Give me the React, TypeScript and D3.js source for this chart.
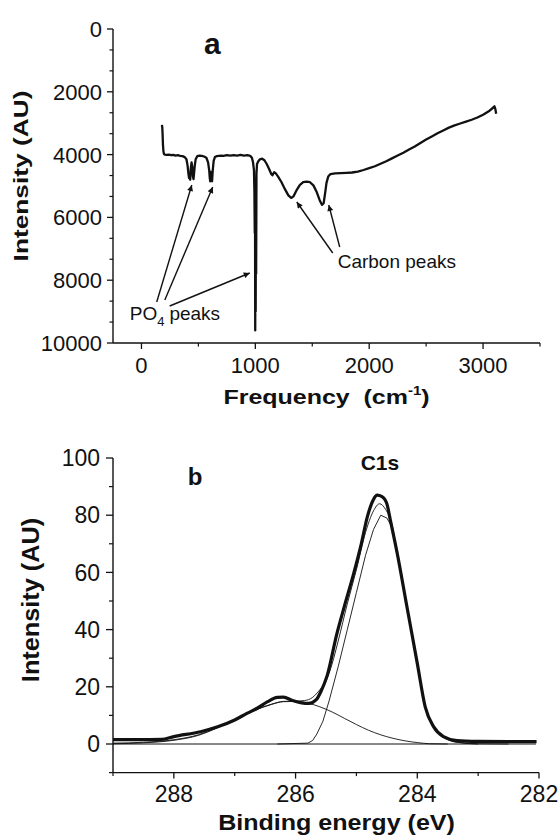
import React from 'react';
import * as d3 from 'd3';

// ---------- Panel a : FTIR spectrum ----------
const FTIR_FREQ = [180, 183, 186, 189, 193, 198, 205, 220, 240, 260, 280, 300, 320, 340, 360, 380, 395, 405, 412, 418, 423, 428, 433, 440, 446, 452, 457, 462, 468, 476, 490, 510, 530, 550, 570, 585, 595, 600, 604, 608, 612, 616, 620, 626, 634, 645, 660, 680, 700, 720, 750, 780, 810, 840, 870, 900, 930, 955, 970, 980, 988, 992, 995, 997, 999, 1001, 1003, 1005, 1007, 1010, 1015, 1025, 1040, 1060, 1080, 1100, 1120, 1140, 1150, 1165, 1180, 1200, 1230, 1260, 1290, 1315, 1335, 1360, 1390, 1420, 1450, 1480, 1510, 1540, 1565, 1585, 1600, 1612, 1625, 1640, 1660, 1700, 1750, 1800, 1850, 1900, 1950, 2000, 2050, 2100, 2150, 2200, 2250, 2300, 2350, 2400, 2450, 2500, 2550, 2600, 2650, 2700, 2750, 2800, 2850, 2900, 2950, 3000, 3050, 3090, 3100, 3108, 3115];
const FTIR_INT = [3050, 3150, 3400, 3700, 3900, 3980, 4000, 4010, 4000, 4020, 4010, 4030, 4020, 4040, 4050, 4080, 4150, 4350, 4600, 4750, 4650, 4800, 4450, 4250, 4400, 4700, 4780, 4600, 4350, 4150, 4050, 4030, 4040, 4060, 4100, 4250, 4500, 4750, 4850, 4550, 4800, 4600, 4850, 4500, 4200, 4080, 4050, 4040, 4030, 4040, 4020, 4030, 4020, 4030, 4010, 4030, 4020, 4040, 4100, 4250, 4500, 5200, 6500, 4800, 9600, 7000, 9000, 6000, 7800, 4600, 4300, 4220, 4150, 4130, 4180, 4300, 4450, 4620, 4660, 4560, 4600, 4700, 4880, 5100, 5300, 5380, 5330, 5150, 4970, 4880, 4860, 4880, 4980, 5200, 5450, 5600, 5550, 5250, 4900, 4700, 4620, 4600, 4590, 4580, 4570, 4540, 4490, 4430, 4370, 4290, 4210, 4120, 4030, 3940, 3840, 3740, 3630, 3520, 3420, 3320, 3230, 3140, 3070, 3010, 2950, 2890, 2820, 2730, 2620, 2500, 2460, 2550, 2700];

const A_X_TICKS = [0, 1000, 2000, 3000];
const A_X_MINOR = [500, 1500, 2500, 3500];
const A_Y_TICKS = [0, 2000, 4000, 6000, 8000, 10000];
const A_Y_MINOR = [667, 1333, 2667, 3333, 4667, 5333, 6667, 7333, 8667, 9333];

// arrows [x1, y1, x2, y2] in data units (tail -> head)
const PO4_ARROWS = [
  [134, 8694, 442, 4968],
  [205, 8631, 626, 5032],
  [248, 8822, 951, 7771],
];
const CARBON_ARROWS = [
  [1680, 7134, 1364, 5510],
  [1741, 6943, 1645, 5605],
];

// ---------- Panel b : XPS C1s ----------
const ENV_E = [289.0, 288.6, 288.2, 288.0, 287.56, 287.28, 287.0, 286.8, 286.63, 286.46, 286.3, 286.2, 286.05, 285.9, 285.78, 285.66, 285.58, 285.48, 285.32, 285.2, 285.04, 284.92, 284.82, 284.72, 284.66, 284.58, 284.5, 284.44, 284.33, 284.17, 284.0, 283.87, 283.73, 283.57, 283.35, 283.0, 282.5, 282.04];
const ENV_I = [1.5, 1.5, 1.6, 2.6, 4.3, 6.0, 8.4, 10.7, 12.5, 14.8, 16.3, 16.4, 15.2, 14.4, 14.2, 15.5, 18.5, 24, 38.7, 48, 60, 70, 79.5, 85.5, 87, 86.5, 84, 78, 66.7, 48, 28.2, 13, 6, 2.6, 1.2, 0.9, 0.8, 0.8];

const FIT_E = [289.0, 288.5, 288.0, 287.6, 287.3, 287.0, 286.7, 286.4, 286.2, 286.0, 285.85, 285.72, 285.6, 285.5, 285.4, 285.3, 285.15, 285.0, 284.85, 284.72, 284.62, 284.52, 284.42, 284.33, 284.17, 284.0, 283.87, 283.73, 283.57, 283.4, 283.0, 282.5];
const FIT_I = [0.3, 0.6, 1.5, 3.2, 5.6, 8.6, 11.6, 13.9, 14.9, 15.0, 15.2, 16.3, 19, 22, 28, 36, 49, 61, 74, 81.5, 84, 82, 77, 67, 48.5, 28.5, 13, 6, 2.5, 0.8, 0.1, 0];

const C1_E = [286.3, 285.8, 285.72, 285.65, 285.55, 285.45, 285.3, 285.15, 285.0, 284.85, 284.72, 284.6, 284.5, 284.42, 284.33, 284.17, 284.0, 283.87, 283.73, 283.57, 283.4, 283.2, 283.0];
const C1_I = [0, 0.3, 1.2, 3.5, 8, 15, 27, 40, 53, 66, 75, 80, 79, 76, 66, 47.5, 28, 12.8, 5.8, 2.4, 0.8, 0.2, 0];

const C2_E = [289.0, 288.5, 288.0, 287.6, 287.3, 287.0, 286.7, 286.4, 286.2, 286.0, 285.8, 285.6, 285.4, 285.2, 285.0, 284.8, 284.6, 284.4, 284.2, 284.0, 283.8, 283.5];
const C2_I = [0.1, 0.4, 1.3, 3, 5.5, 8.5, 11.5, 13.8, 14.8, 14.9, 14.3, 13, 11.2, 9, 6.8, 4.8, 3.2, 2, 1.1, 0.5, 0.1, 0];

const B_X_TICKS = [288, 286, 284, 282];
const B_X_MINOR = [289, 287, 285, 283];
const B_Y_TICKS = [0, 20, 40, 60, 80, 100];
const B_Y_MINOR = [-10, 10, 30, 50, 70, 90];

const FONT = '"Liberation Sans", Arial, Helvetica, sans-serif';
const INK = '#111';

function mkLine(xs: number[], ys: number[], sx: any, sy: any, curve: any) {
  const idx = xs.map((_, i) => i);
  return d3.line<number>().x((i) => sx(xs[i])).y((i) => sy(ys[i])).curve(curve)(idx) || '';
}

export default function App() {
  const ax = d3.scaleLinear().domain([-250, 3500]).range([113, 540]);
  const ay = d3.scaleLinear().domain([0, 10000]).range([29, 343]);
  const bx = d3.scaleLinear().domain([289, 282]).range([113, 539]);
  const by = d3.scaleLinear().domain([-10, 100]).range([772.6, 458]);

  const ftir = mkLine(FTIR_FREQ, FTIR_INT, ax, ay, d3.curveLinear);
  const env = mkLine(ENV_E, ENV_I, bx, by, d3.curveMonotoneX);
  const fit = mkLine(FIT_E, FIT_I, bx, by, d3.curveMonotoneX);
  const c1 = mkLine(C1_E, C1_I, bx, by, d3.curveLinear);
  const c2 = mkLine(C2_E, C2_I, bx, by, d3.curveMonotoneX);

  const aBase = ay(10000);
  const aLeft = ax(-250);
  const bBase = by(-10);
  const bLeft = bx(289);

  return (
    <svg width={559} height={835} style={{ position: 'absolute', left: 0, top: 0, background: '#fff' }} fontFamily={FONT}>
      <defs>
        <marker id="arr" viewBox="0 0 10 10" refX="10" refY="5" markerWidth="9" markerHeight="6" markerUnits="userSpaceOnUse" orient="auto">
          <path d="M0,0 L10,5 L0,10 z" fill={INK} />
        </marker>
      </defs>
      <rect width={559} height={835} fill="#fff" />

      {/* ===== Panel a ===== */}
      <g>
        <line x1={aLeft} x2={ax(3500)} y1={aBase} y2={aBase} stroke={INK} strokeWidth={1.4} />
        <line x1={aLeft} x2={aLeft} y1={ay(0)} y2={aBase} stroke={INK} strokeWidth={1.4} />
        {A_X_TICKS.map((t) => (
          <g key={'ax' + t}>
            <line x1={ax(t)} x2={ax(t)} y1={aBase} y2={aBase + 6} stroke={INK} strokeWidth={1.3} />
            <text x={ax(t)} y={aBase + 30} textAnchor="middle" fontSize={22} fill={INK}>{t}</text>
          </g>
        ))}
        {A_X_MINOR.map((t) => (
          <line key={'axm' + t} x1={ax(t)} x2={ax(t)} y1={aBase} y2={aBase + 3.5} stroke={INK} strokeWidth={1.2} />
        ))}
        {A_Y_TICKS.map((t) => (
          <g key={'ay' + t}>
            <line x1={aLeft - 6} x2={aLeft} y1={ay(t)} y2={ay(t)} stroke={INK} strokeWidth={1.3} />
            <text x={aLeft - 11} y={ay(t)} dy="0.36em" textAnchor="end" fontSize={22} fill={INK}>{t}</text>
          </g>
        ))}
        {A_Y_MINOR.map((t) => (
          <line key={'aym' + t} x1={aLeft - 3.5} x2={aLeft} y1={ay(t)} y2={ay(t)} stroke={INK} strokeWidth={1.2} />
        ))}
        <path d={ftir} fill="none" stroke={INK} strokeWidth={2.3} strokeLinejoin="round" />
        {PO4_ARROWS.concat(CARBON_ARROWS).map((a, i) => (
          <line key={'arr' + i} x1={ax(a[0])} y1={ay(a[1])} x2={ax(a[2])} y2={ay(a[3])} stroke={INK} strokeWidth={1.4} markerEnd="url(#arr)" />
        ))}
        <text x={ax(-103)} y={ay(9268)} fontSize={19} fill={INK}>
          <tspan>PO</tspan>
          <tspan fontSize={13} dy={6}>4</tspan>
          <tspan dy={-6} dx={5}>peaks</tspan>
        </text>
        <text x={ax(1723)} y={ay(7611)} fontSize={19} fill={INK}>Carbon peaks</text>
        <text x={ax(549)} y={ay(796)} fontSize={30} fontWeight="bold" fill={INK}>a</text>
        <text transform={`translate(${(aLeft + ax(3500)) / 2},404) scale(1.25,1)`} textAnchor="middle" fontSize={20} fontWeight="bold" fill={INK}>
          <tspan>Frequency</tspan>
          <tspan dx={11}>(cm</tspan>
          <tspan fontSize={12} dy={-9}>-1</tspan>
          <tspan dy={9}>)</tspan>
        </text>
        <text transform={`translate(28,176) rotate(-90) scale(1.25,1)`} textAnchor="middle" fontSize={21} fontWeight="bold" fill={INK}>
          <tspan>Intensity</tspan>
          <tspan dx={6}>(AU)</tspan>
        </text>
      </g>

      {/* ===== Panel b ===== */}
      <g>
        <line x1={bLeft} x2={bx(282)} y1={bBase} y2={bBase} stroke={INK} strokeWidth={1.4} />
        <line x1={bLeft} x2={bLeft} y1={by(100)} y2={bBase} stroke={INK} strokeWidth={1.4} />
        {B_X_TICKS.map((t) => (
          <g key={'bx' + t}>
            <line x1={bx(t)} x2={bx(t)} y1={bBase} y2={bBase + 6} stroke={INK} strokeWidth={1.3} />
            <text x={bx(t)} y={bBase + 29} textAnchor="middle" fontSize={23} fill={INK}>{t}</text>
          </g>
        ))}
        {B_X_MINOR.map((t) => (
          <line key={'bxm' + t} x1={bx(t)} x2={bx(t)} y1={bBase} y2={bBase + 3.5} stroke={INK} strokeWidth={1.2} />
        ))}
        {B_Y_TICKS.map((t) => (
          <g key={'by' + t}>
            <line x1={bLeft - 7} x2={bLeft} y1={by(t)} y2={by(t)} stroke={INK} strokeWidth={1.3} />
            <text x={bLeft - 13} y={by(t)} dy="0.36em" textAnchor="end" fontSize={23} fill={INK}>{t}</text>
          </g>
        ))}
        {B_Y_MINOR.map((t) => (
          <line key={'bym' + t} x1={bLeft - 4} x2={bLeft} y1={by(t)} y2={by(t)} stroke={INK} strokeWidth={1.2} />
        ))}
        <line x1={bLeft} x2={bx(282.05)} y1={by(0)} y2={by(0)} stroke={INK} strokeWidth={1} />
        <path d={c2} fill="none" stroke={INK} strokeWidth={0.9} />
        <path d={c1} fill="none" stroke={INK} strokeWidth={0.9} />
        <path d={fit} fill="none" stroke={INK} strokeWidth={0.9} />
        <path d={env} fill="none" stroke={INK} strokeWidth={3.2} strokeLinejoin="round" />
        <text x={bx(287.77)} y={by(90.6)} fontSize={24} fontWeight="bold" fill={INK}>b</text>
        <text x={bx(284.93)} y={by(95.8)} fontSize={21} fontWeight="bold" fill={INK}>C1s</text>
        <text transform={`translate(336.5,830) scale(1.14,1)`} textAnchor="middle" fontSize={22} fontWeight="bold" fill={INK}>Binding energy (eV)</text>
        <text transform={`translate(39,600) rotate(-90) scale(1.1,1)`} textAnchor="middle" fontSize={23} fontWeight="bold" fill={INK}>Intensity (AU)</text>
      </g>
    </svg>
  );
}
